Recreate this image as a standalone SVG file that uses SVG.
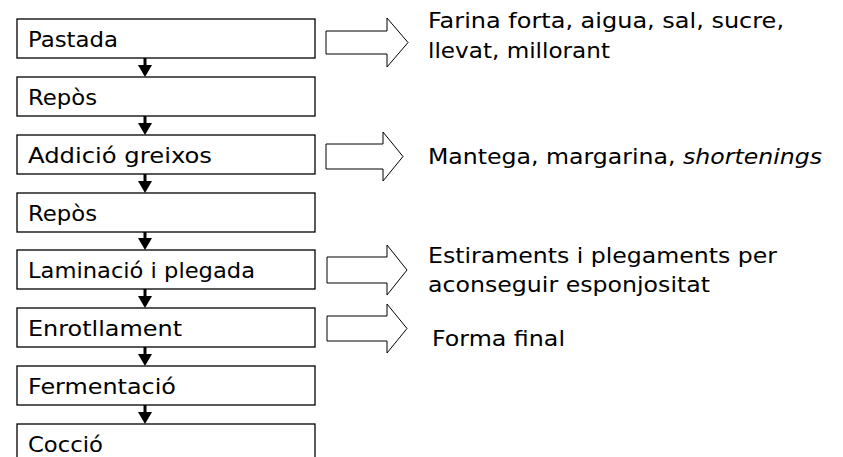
<svg xmlns="http://www.w3.org/2000/svg" width="843" height="457" viewBox="0 0 843 457">
<style>
.box{fill:#fff;stroke:#000;stroke-width:1.3}
.blk{fill:#fff;stroke:#000;stroke-width:1}
.t{font-family:"Comic Sans MS","DejaVu Sans",sans-serif;font-size:22px;fill:#000}
.flow{stroke:#000;stroke-width:3}
.head{fill:#000}
</style>
<rect width="843" height="457" fill="#fff"/>
<g id="n1"><rect class="box" x="17" y="19" width="298" height="39"/><text class="t" x="28" y="47" textLength="90" lengthAdjust="spacingAndGlyphs">Pastada</text></g>
<g id="n2"><rect class="box" x="17" y="77" width="298" height="39"/><text class="t" x="28" y="105" textLength="69" lengthAdjust="spacingAndGlyphs">Repòs</text></g>
<g id="n3"><rect class="box" x="17" y="135" width="298" height="39"/><text class="t" x="28" y="163" textLength="184" lengthAdjust="spacingAndGlyphs">Addició greixos</text></g>
<g id="n4"><rect class="box" x="17" y="193" width="298" height="39"/><text class="t" x="28" y="221" textLength="69" lengthAdjust="spacingAndGlyphs">Repòs</text></g>
<g id="n5"><rect class="box" x="17" y="250" width="298" height="39"/><text class="t" x="28" y="278" textLength="227" lengthAdjust="spacingAndGlyphs">Laminació i plegada</text></g>
<g id="n6"><rect class="box" x="17" y="308" width="298" height="39"/><text class="t" x="28" y="336" textLength="154" lengthAdjust="spacingAndGlyphs">Enrotllament</text></g>
<g id="n7"><rect class="box" x="17" y="366" width="298" height="39"/><text class="t" x="28" y="394" textLength="148" lengthAdjust="spacingAndGlyphs">Fermentació</text></g>
<g id="n8"><rect class="box" x="17" y="424" width="298" height="39"/><text class="t" x="28" y="452" textLength="75" lengthAdjust="spacingAndGlyphs">Cocció</text></g>
<g id="connectors">
<line class="flow" x1="145" y1="58" x2="145" y2="66"/><polygon class="head" points="138,65 152,65 145,77"/>
<line class="flow" x1="145" y1="116" x2="145" y2="124"/><polygon class="head" points="138,123 152,123 145,135"/>
<line class="flow" x1="145" y1="174" x2="145" y2="182"/><polygon class="head" points="138,181 152,181 145,193"/>
<line class="flow" x1="145" y1="232" x2="145" y2="239"/><polygon class="head" points="138,238 152,238 145,250"/>
<line class="flow" x1="145" y1="289" x2="145" y2="297"/><polygon class="head" points="138,296 152,296 145,308"/>
<line class="flow" x1="145" y1="347" x2="145" y2="355"/><polygon class="head" points="138,354 152,354 145,366"/>
<line class="flow" x1="145" y1="405" x2="145" y2="413"/><polygon class="head" points="138,412 152,412 145,424"/>
</g>
<g id="b1"><polygon class="blk" points="326,31 387,31 387,18 408,42.5 387,67 387,54 326,54"/>
<text class="t" x="428" y="28" textLength="356" lengthAdjust="spacingAndGlyphs">Farina forta, aigua, sal, sucre,</text>
<text class="t" x="428" y="58" textLength="182" lengthAdjust="spacingAndGlyphs">llevat, millorant</text></g>
<g id="b2"><polygon class="blk" points="326,144 383,144 383,132 403,156.5 383,181 383,169 326,169"/>
<text class="t" x="428" y="164" textLength="394" lengthAdjust="spacingAndGlyphs">Mantega, margarina, <tspan font-style="italic">shortenings</tspan></text></g>
<g id="b3"><polygon class="blk" points="327,257 387,257 387,245 407,270 387,295 387,283 327,283"/>
<text class="t" x="428" y="263" textLength="349" lengthAdjust="spacingAndGlyphs">Estiraments i plegaments per</text>
<text class="t" x="428" y="292" textLength="282" lengthAdjust="spacingAndGlyphs">aconseguir esponjositat</text></g>
<g id="b4"><polygon class="blk" points="327,316 387,316 387,304 407,328.5 387,353 387,341 327,341"/>
<text class="t" x="432" y="346" textLength="133" lengthAdjust="spacingAndGlyphs">Forma final</text></g>
</svg>
